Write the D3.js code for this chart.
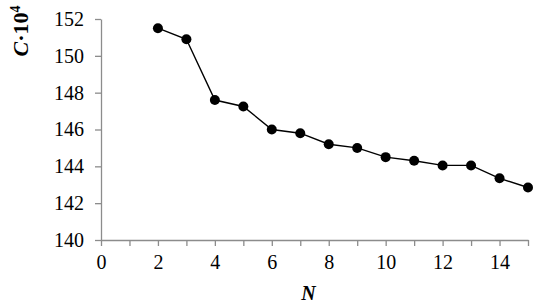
<!DOCTYPE html>
<html>
<head>
<meta charset="utf-8">
<style>
	body { margin: 0; background: #fff; }
	svg { display: block; }
	.axis path, .axis line { stroke: #8c8c8c; stroke-width: 1.3; }
</style>
<title>C vs N</title>
</head>
<body>
<script src="https://cdn.jsdelivr.net/npm/d3@7"></script>
<script>

var nValues = [2, 3, 4, 5, 6, 7, 8, 9, 10, 11, 12, 13, 14, 15];
var cValues = [151.5, 150.9, 147.6, 147.25, 146.0, 145.8, 145.2, 145.0, 144.5, 144.3, 144.05, 144.05, 143.35, 142.85];
var xTicks = [0, 1, 2, 3, 4, 5, 6, 7, 8, 9, 10, 11, 12, 13, 14, 15];
var yTicks = [140, 142, 144, 146, 148, 150, 152];

var data = nValues.map((n, i) => ({n: n, c: cValues[i]}));

var serif = "'Liberation Serif', 'Times New Roman', serif";
var W = 542, H = 307;
var margin = {top: 19, right: 14, bottom: 67, left: 101};

var x = d3.scaleLinear().domain([0, 15]).range([margin.left, W - margin.right]);
var y = d3.scaleLinear().domain([140, 152]).range([H - margin.bottom, margin.top]);

var svg = d3.select('body').append('svg')
	.attr('width', W)
	.attr('height', H);

function styleTicks(g) {
	g.attr('font-family', serif).attr('font-size', 20);
	g.selectAll('text').style('font-family', serif).style('font-size', '20px').attr('fill', '#000');
}

svg.append('g')
	.attr('class', 'axis')
	.attr('transform', `translate(0,${y(140)})`)
	.call(d3.axisBottom(x).tickValues(xTicks).tickSize(6).tickSizeOuter(0)
		.tickFormat(d => d % 2 === 0 ? d : ''))
	.call(styleTicks)
	.call(g => g.selectAll('text').attr('dy', '1.0em'));

svg.append('g')
	.attr('class', 'axis')
	.attr('transform', `translate(${x(0)},0)`)
	.call(d3.axisLeft(y).tickValues(yTicks).tickSize(6).tickSizeOuter(0))
	.call(styleTicks)
	.call(g => g.selectAll('text').attr('x', -17));

svg.append('path')
	.datum(data)
	.attr('fill', 'none')
	.attr('stroke', '#000')
	.attr('stroke-width', 1.4)
	.attr('d', d3.line().x(d => x(d.n)).y(d => y(d.c)));

svg.selectAll('circle')
	.data(data)
	.enter().append('circle')
	.attr('cx', d => x(d.n))
	.attr('cy', d => y(d.c))
	.attr('r', 5)
	.attr('fill', '#000');

// axis titles
svg.append('text')
	.attr('x', (x(0) + x(15)) / 2 - 6)
	.attr('y', 300)
	.attr('text-anchor', 'middle')
	.style('font-family', serif)
	.attr('font-size', 20)
	.attr('font-weight', 'bold')
	.attr('font-style', 'italic')
	.text('N');

var yt = svg.append('text')
	.attr('transform', 'translate(28,31) rotate(-90)')
	.attr('text-anchor', 'middle')
	.style('font-family', serif)
	.attr('font-size', 22)
	.attr('font-weight', 'bold');
yt.append('tspan').attr('font-style', 'italic').text('C');
yt.append('tspan').text('·10');
yt.append('tspan').attr('font-size', 14).attr('dy', '-0.6em').text('4');

</script>
</body>
</html>
